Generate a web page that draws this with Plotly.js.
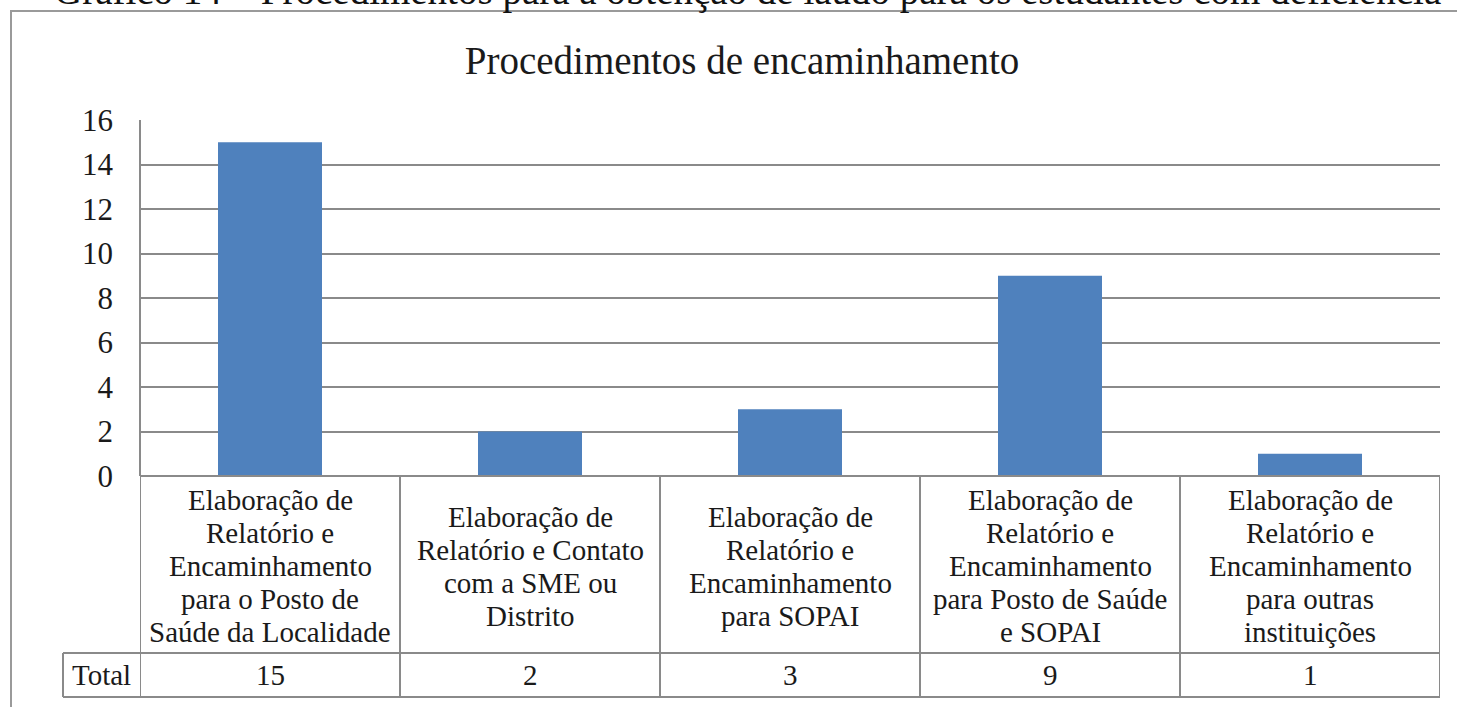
<!DOCTYPE html>
<html>
<head>
<meta charset="utf-8">
<script src="https://cdn.plot.ly/plotly-3.0.1.min.js"></script>
<style>html,body{margin:0;padding:0;background:#fff;}#chart{width:1457px;height:707px;}</style>
</head>
<body>
<div id="chart"></div>
<script>
// ---- data ----
const categoryLines = [
  ["Elaboração de", "Relatório e", "Encaminhamento", "para o Posto de", "Saúde da Localidade"],
  ["Elaboração de", "Relatório e Contato", "com a SME ou", "Distrito"],
  ["Elaboração de", "Relatório e", "Encaminhamento", "para SOPAI"],
  ["Elaboração de", "Relatório e", "Encaminhamento", "para Posto de Saúde", "e SOPAI"],
  ["Elaboração de", "Relatório e", "Encaminhamento", "para outras", "instituições"]
];
const categories = categoryLines.map(l => l.join(" "));
const totals = [15, 2, 3, 9, 1];
const seriesName = "Total";
const chartTitle = "Procedimentos de encaminhamento";
const captionText = "Gráfico 14 – Procedimentos para a obtenção de laudo para os estudantes com deficiência";
const yTicks = [0, 2, 4, 6, 8, 10, 12, 14, 16];

// ---- layout helpers ----
const W = 1457, H = 707;
const plotL = 140, plotR = 1440, plotT = 120, plotB = 476;
const plotH = plotB - plotT, plotW = plotR - plotL;
const py = p => (plotB - p) / plotH;      // pixel y -> paper y
const px = p => (p - plotL) / plotW;      // pixel x -> paper x
const FONT = "Liberation Serif";
const TXT = "#1a1a1a";
const LINE = "#8a8a8a";

const headerBottom = 653, totalBottom = 697, totalLeft = 63;
const headerCenter = 566, lineGap = 33, totalCenter = 675;

const shapes = [];
const annotations = [];

// outer frame
shapes.push({type: "rect", xref: "paper", yref: "paper",
  x0: px(11), x1: px(1500), y0: py(11), y1: py(760),
  line: {color: "#9a9a9a", width: 2}, fillcolor: "rgba(0,0,0,0)"});

// plot left border
shapes.push({type: "line", xref: "paper", yref: "paper", x0: 0, x1: 0, y0: 1, y1: 0,
  line: {color: LINE, width: 2}});

// table horizontal lines
shapes.push({type: "line", xref: "paper", yref: "paper", x0: 0, x1: 1, y0: 0, y1: 0,
  line: {color: LINE, width: 2}});
shapes.push({type: "line", xref: "paper", yref: "paper", x0: px(totalLeft), x1: 1, y0: py(headerBottom), y1: py(headerBottom),
  line: {color: LINE, width: 2}});
shapes.push({type: "line", xref: "paper", yref: "paper", x0: px(totalLeft), x1: 1, y0: py(totalBottom), y1: py(totalBottom),
  line: {color: LINE, width: 2}});
shapes.push({type: "line", xref: "paper", yref: "paper", x0: px(totalLeft), x1: px(totalLeft), y0: py(headerBottom), y1: py(totalBottom),
  line: {color: LINE, width: 2}});

// table vertical lines at category boundaries
for (let i = 0; i <= categories.length; i++) {
  shapes.push({type: "line", xref: "x", yref: "paper", x0: i - 0.5, x1: i - 0.5,
    y0: 0, y1: py(totalBottom), line: {color: LINE, width: 2}});
}

// header cells text
categoryLines.forEach((lines, ci) => {
  const n = lines.length;
  lines.forEach((t, li) => {
    const cy = headerCenter + (li - (n - 1) / 2) * lineGap;
    annotations.push({xref: "x", yref: "paper", x: categories[ci], y: py(cy),
      text: t, showarrow: false, xanchor: "center", yanchor: "middle",
      font: {family: FONT, size: 29, color: TXT}});
  });
});

// total row
annotations.push({xref: "paper", yref: "paper", x: px((totalLeft + plotL) / 2), y: py(totalCenter),
  text: seriesName, showarrow: false, xanchor: "center", yanchor: "middle",
  font: {family: FONT, size: 29, color: TXT}});
totals.forEach((v, i) => {
  annotations.push({xref: "x", yref: "paper", x: categories[i], y: py(totalCenter),
    text: String(v), showarrow: false, xanchor: "center", yanchor: "middle",
    font: {family: FONT, size: 29, color: TXT}});
});

// cut-off caption at top (as in the reference)
annotations.push({xref: "paper", yref: "paper", x: px(747), y: py(-9),
  text: captionText, showarrow: false, xanchor: "center", yanchor: "middle",
  font: {family: FONT, size: 39, color: "#111"}});

const trace = {
  type: "bar", x: categories, y: totals, name: seriesName,
  marker: {color: "#4F81BD", line: {width: 0}}, width: 0.4,
  hoverinfo: "x+y"
};

const layout = {
  width: W, height: H,
  margin: {l: plotL, r: W - plotR, t: plotT, b: H - plotB, pad: 0},
  paper_bgcolor: "#fff", plot_bgcolor: "#fff",
  showlegend: false,
  title: {text: chartTitle, x: 742 / W, xanchor: "center", y: 1 - 60 / H, yanchor: "middle",
    font: {family: FONT, size: 39, color: TXT}},
  xaxis: {type: "category", showticklabels: false, showgrid: false, zeroline: false,
    showline: false, ticks: "", range: [-0.5, categories.length - 0.5], fixedrange: true},
  yaxis: {range: [0, 16], tickvals: yTicks, ticktext: yTicks.map(String),
    showgrid: true, gridcolor: LINE, gridwidth: 2, zeroline: false, showline: false,
    ticks: "", ticklabelstandoff: 26,
    tickfont: {family: FONT, size: 31, color: TXT}, fixedrange: true},
  shapes: shapes,
  annotations: annotations
};

Plotly.newPlot("chart", [trace], layout, {displayModeBar: false, staticPlot: true});
</script>
</body>
</html>
